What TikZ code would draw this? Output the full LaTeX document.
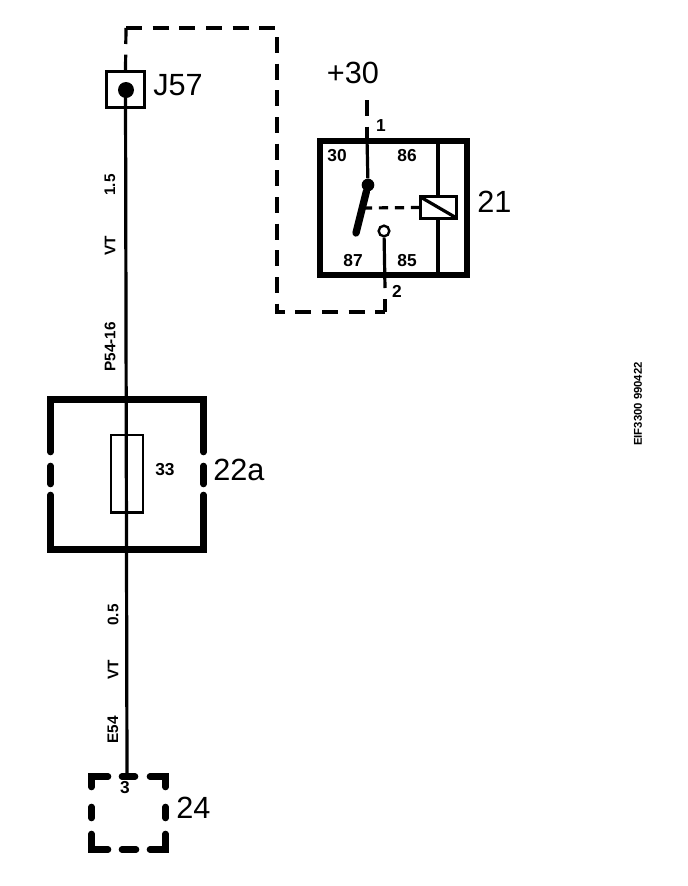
\documentclass[tikz,border=0pt]{standalone}
\usepackage{fontspec}
\setmainfont{Liberation Sans}
\tikzset{
  bignum/.style={font=\fontsize{23}{23}\selectfont,inner sep=0pt},
  pinlab/.style={font=\fontsize{13}{13}\selectfont\bfseries,inner sep=0pt},
  wirelab/.style={font=\fontsize{11.5}{11.5}\selectfont\bfseries,rotate=90,inner sep=0pt},
  wire/.style={line width=2.4pt},
  dashwire/.style={line width=2.4pt,dash pattern=on 12pt off 8pt},
  heavy/.style={line width=5pt,line cap=round},
  thinbox/.style={draw,rectangle,line width=2pt,inner sep=0pt}
}
\begin{document}
\begin{tikzpicture}[x=0.75pt,y=-0.75pt]
\useasboundingbox (0,0) rectangle (688,886);
% junction
\node[draw,rectangle,line width=2.6pt,inner sep=0pt,minimum width=28.5pt,minimum height=27pt] (J) at (125.5,89.5) {};
\node[circle,fill,inner sep=0pt,minimum size=12pt] (Jdot) at (126,90) {};
\node[bignum,anchor=west] (Jlab) at (153,85) {J57};
% fuse
\node[thinbox,minimum width=24pt,minimum height=58pt] (F) at (127,473.5) {};
\node[pinlab] (Flab) at (165,470) {33};
\node[bignum,anchor=west] (Fbox) at (213,470) {22a};
\draw[heavy] (50.5,452) -- (50.5,399.5) -- (203.5,399.5) -- (203.5,452);
\draw[heavy] (50.5,466) -- (50.5,484);
\draw[heavy] (203.5,466) -- (203.5,484);
\draw[heavy] (50.5,495) -- (50.5,549.5) -- (203.5,549.5) -- (203.5,495);
% connector
\coordinate (Ctop) at (127,776);
\node[pinlab] (Clab) at (125,788) {3};
\node[bignum,anchor=west] (Cbox) at (176,808) {24};
\draw[heavy] (91.5,787) -- (91.5,776.5) -- (108,776.5);
\draw[heavy] (122,776.5) -- (135,776.5);
\draw[heavy] (150,776.5) -- (165.5,776.5) -- (165.5,787);
\draw[heavy] (91.5,807) -- (91.5,818);
\draw[heavy] (165.5,807) -- (165.5,818);
\draw[heavy] (91.5,834) -- (91.5,849.5) -- (108,849.5);
\draw[heavy] (122,849.5) -- (136,849.5);
\draw[heavy] (150,849.5) -- (165.5,849.5) -- (165.5,834);
% wire labels
\node[wirelab] (w1) at (110,185) {1.5};
\node[wirelab] (w2) at (110,246) {VT};
\node[wirelab] (w3) at (110,347) {P54-16};
\node[wirelab] (w4) at (113,615) {0.5};
\node[wirelab] (w5) at (113,670) {VT};
\node[wirelab] (w6) at (113,730) {E54};
% relay
\node[draw,rectangle,line width=4.5pt,inner sep=0pt,minimum width=110pt,minimum height=100pt] (R) at (393.5,208) {};
\node[bignum,anchor=west] (Rlab) at (477,202) {21};
\node[bignum] (plus) at (353,73) {+30};
\node[pinlab] (p30) at (337,156) {30};
\node[pinlab] (p86) at (407,156) {86};
\node[pinlab] (p87) at (353,261) {87};
\node[pinlab] (p85) at (407,261) {85};
\node[pinlab] (p1) at (381,126) {1};
\node[pinlab] (p2) at (397,291) {2};
\node[draw,rectangle,line width=2.2pt,inner sep=0pt,outer sep=0pt,minimum width=27.5pt,minimum height=16pt] (K) at (438.5,207.5) {};
\node[circle,fill,inner sep=0pt,minimum size=9.5pt] (Sw) at (368,185) {};
\node[circle,draw,line width=1.8pt,inner sep=0pt,minimum size=8pt] (Ct) at (384,231) {};
\coordinate (Bl) at (356,233);
\coordinate (Bm) at (365,208);
\coordinate (In) at (367,138);
\coordinate (Top) at (367,100);
\coordinate (Rt) at (438,141);
\coordinate (Rb) at (438,275);
\coordinate (Cb) at (385,288);
\coordinate (a) at (126,28);
\coordinate (b) at (277,28);
\coordinate (c) at (277,312);
\coordinate (d) at (385,312);
\path[wire]
  (J.center) edge (Ctop)
  (In) edge (Sw)
  (K.north -| Rt) edge (Rt)
  (K.south -| Rb) edge (Rb)
  (Ct) edge (Cb)
;
\draw[dashwire] (a) -- (J.north);
\draw[dashwire] (a) -- (b) -- (c) -- (d);
\draw[wire,dash pattern=on 10pt off 8pt] (d) -- (Cb);
\draw[dashwire] (Top) -- (In);
\draw[wire,dash pattern=on 7pt off 5pt] (K.west) -- (Bm);
\draw[wire] (K.north west) -- (K.south east);
\draw[line width=5.5pt,line cap=round] (Sw) -- (Bl);
% drawing number
\node[font=\fontsize{8.5}{8.5}\selectfont\bfseries,rotate=90,inner sep=0pt] (code) at (638,404) {EIF3300 990422};
\end{tikzpicture}
\end{document}
